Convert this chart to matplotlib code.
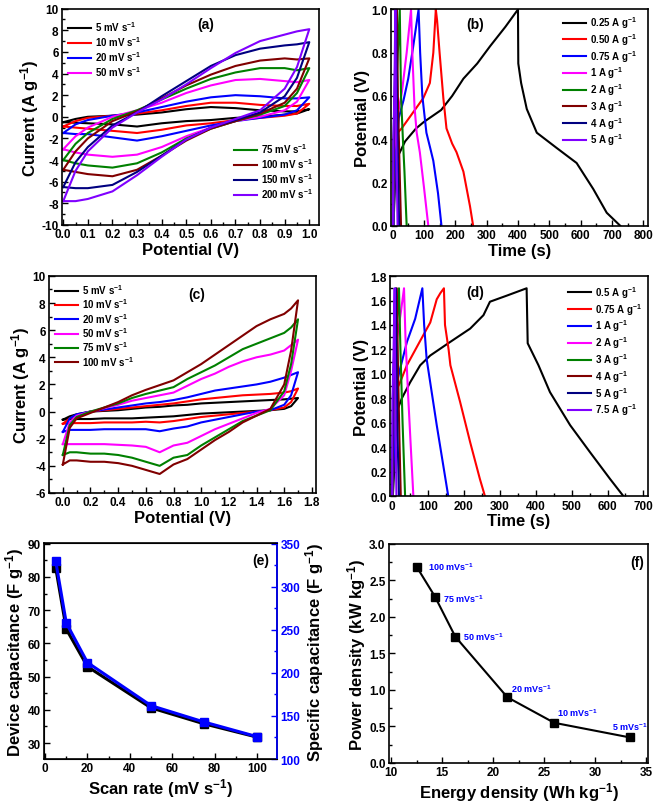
import numpy as np
import matplotlib
matplotlib.use('Agg')
import matplotlib.pyplot as plt
from matplotlib.ticker import MultipleLocator, FormatStrFormatter

plt.rcParams['font.family'] = ['Liberation Sans', 'DejaVu Sans']
plt.rcParams['font.weight'] = 'bold'
plt.rcParams['axes.labelweight'] = 'bold'
plt.rcParams['axes.unicode_minus'] = False
plt.rcParams['mathtext.fontset'] = 'custom'
plt.rcParams['mathtext.bf'] = 'Liberation Sans:bold'
plt.rcParams['mathtext.rm'] = 'Liberation Sans:bold'
plt.rcParams['mathtext.default'] = 'bf'

colors = ['#000000', '#ff0000', '#0000ff', '#ff00ff', '#008000', '#800000', '#000080', '#8000ff']

# ---- (a) CV, electrode, 0-1 V
a_rates = ['5', '10', '20', '50', '75', '100', '150', '200']
a_E = [0, 0.05, 0.1, 0.2, 0.3, 0.4, 0.5, 0.6, 0.7, 0.8, 0.9, 0.95, 1.0]
a_upper = [
    [-0.5, -0.2, 0.0, 0.1, 0.2, 0.4, 0.7, 0.9, 0.8, 0.6, 0.5, 0.5, 0.7],
    [-0.9, -0.4, -0.1, 0.1, 0.3, 0.6, 1.0, 1.3, 1.3, 1.1, 1.0, 1.0, 1.2],
    [-1.5, -0.7, -0.3, 0.1, 0.4, 0.9, 1.4, 1.8, 2.0, 1.9, 1.7, 1.7, 1.8],
    [-3.0, -1.8, -1.0, 0.0, 0.6, 1.3, 2.2, 2.9, 3.4, 3.5, 3.3, 3.2, 3.4],
    [-4.0, -2.5, -1.5, -0.2, 0.6, 1.6, 2.6, 3.5, 4.1, 4.5, 4.5, 4.3, 4.5],
    [-4.9, -3.2, -2.0, -0.4, 0.5, 1.7, 2.9, 3.9, 4.7, 5.2, 5.4, 5.3, 5.4],
    [-6.5, -4.2, -2.8, -0.8, 0.4, 1.9, 3.3, 4.7, 5.7, 6.3, 6.6, 6.7, 6.9],
    [-7.8, -5.0, -3.2, -1.0, 0.4, 1.6, 3.0, 4.5, 5.9, 7.0, 7.6, 7.9, 8.1],
]
a_lower = [
    [-0.5, -0.55, -0.6, -0.7, -0.9, -0.6, -0.4, -0.3, -0.1, 0.0, 0.2, 0.3, 0.7],
    [-0.9, -1.0, -1.1, -1.3, -1.5, -1.2, -0.8, -0.6, -0.3, -0.1, 0.1, 0.3, 1.2],
    [-1.5, -1.6, -1.6, -1.9, -2.2, -1.8, -1.3, -0.8, -0.4, -0.1, 0.2, 0.6, 1.8],
    [-3.0, -3.3, -3.5, -3.7, -3.5, -2.8, -1.8, -1.0, -0.4, 0.0, 0.6, 1.4, 3.4],
    [-4.0, -4.3, -4.5, -4.7, -4.3, -3.3, -2.0, -1.1, -0.4, 0.2, 1.0, 2.2, 4.5],
    [-4.9, -5.1, -5.3, -5.5, -4.9, -3.6, -2.2, -1.1, -0.4, 0.3, 1.3, 2.6, 5.4],
    [-6.5, -6.6, -6.6, -6.3, -5.1, -3.6, -2.1, -1.0, -0.3, 0.4, 1.9, 3.6, 6.9],
    [-7.8, -7.8, -7.6, -6.9, -5.4, -3.7, -2.1, -1.0, -0.2, 0.6, 2.6, 4.6, 8.1],
]

# ---- (b) GCD, electrode
b_labels = ['0.25', '0.50', '0.75', '1', '2', '3', '4', '5']
b_t = [
    [3, 10, 20, 40, 75, 100, 130, 155, 190, 226, 270, 311, 360, 400, 401, 410, 428, 460, 523, 587, 640, 683, 726],
    [2, 10, 29, 66, 98, 119, 130, 138, 142, 150, 162, 172, 190, 204, 226, 247, 257],
    [3, 8, 20, 35, 50, 65, 83, 88, 95, 108, 120, 130, 145, 156],
    [2, 5, 15, 30, 45, 59, 63, 70, 77, 87, 100, 114],
    [2, 5, 12, 23, 27, 33, 38, 45],
    [1, 4, 9, 14, 17, 21, 27],
    [1, 3, 7, 11, 14, 17, 21],
    [1, 3, 6, 9, 11, 13, 16],
]
b_V = [
    [0.0, 0.28, 0.33, 0.39, 0.45, 0.48, 0.51, 0.535, 0.6, 0.68, 0.75, 0.83, 0.92, 1.0, 0.75, 0.66, 0.54, 0.43, 0.36, 0.29, 0.17, 0.06, 0.0],
    [0.0, 0.42, 0.45, 0.525, 0.59, 0.66, 0.8, 1.0, 0.95, 0.8, 0.59, 0.45, 0.38, 0.34, 0.25, 0.09, 0.0],
    [0.0, 0.3, 0.5, 0.58, 0.68, 0.82, 1.0, 0.8, 0.6, 0.43, 0.36, 0.3, 0.15, 0.0],
    [0.0, 0.35, 0.5, 0.62, 0.8, 1.0, 0.8, 0.55, 0.43, 0.34, 0.18, 0.0],
    [0.0, 0.45, 0.65, 1.0, 0.6, 0.4, 0.25, 0.0],
    [0.0, 0.4, 0.65, 1.0, 0.6, 0.35, 0.0],
    [0.0, 0.4, 0.65, 1.0, 0.55, 0.3, 0.0],
    [0.0, 0.4, 0.65, 1.0, 0.55, 0.3, 0.0],
]

# ---- (c) CV, device, 0-1.7 V
c_rates = ['5', '10', '20', '50', '75', '100']
c_E = [0, 0.05, 0.1, 0.2, 0.3, 0.4, 0.5, 0.6, 0.7, 0.8, 0.9, 1.0, 1.1, 1.2, 1.3, 1.4, 1.5, 1.6, 1.65, 1.7]
c_upper = [
    [-0.6, -0.35, -0.2, 0.0, 0.05, 0.1, 0.2, 0.3, 0.35, 0.45, 0.5, 0.6, 0.65, 0.7, 0.75, 0.8, 0.85, 0.9, 0.95, 1.0],
    [-0.9, -0.5, -0.3, 0.0, 0.1, 0.2, 0.3, 0.4, 0.5, 0.6, 0.75, 0.9, 1.0, 1.1, 1.2, 1.25, 1.3, 1.4, 1.5, 1.7],
    [-1.5, -0.5, -0.2, 0.0, 0.15, 0.3, 0.45, 0.6, 0.7, 0.85, 1.05, 1.3, 1.55, 1.7, 1.85, 2.0, 2.2, 2.5, 2.7, 2.9],
    [-2.4, -0.8, -0.3, 0.0, 0.25, 0.5, 0.8, 1.0, 1.2, 1.4, 1.9, 2.4, 2.8, 3.3, 3.7, 4.0, 4.2, 4.5, 4.9, 5.3],
    [-3.2, -1.0, -0.4, 0.0, 0.3, 0.6, 1.0, 1.3, 1.55, 1.8, 2.4, 2.9, 3.4, 4.0, 4.6, 5.0, 5.4, 5.8, 6.2, 6.8],
    [-3.9, -1.2, -0.5, -0.1, 0.3, 0.7, 1.2, 1.6, 1.95, 2.3, 2.9, 3.5, 4.2, 4.9, 5.6, 6.3, 6.8, 7.2, 7.6, 8.2],
]
c_lower = [
    [-0.6, -0.55, -0.55, -0.55, -0.5, -0.5, -0.5, -0.45, -0.4, -0.35, -0.25, -0.15, -0.1, -0.05, 0.0, 0.05, 0.1, 0.2, 0.4, 1.0],
    [-0.9, -0.85, -0.85, -0.85, -0.8, -0.8, -0.8, -0.75, -0.8, -0.7, -0.55, -0.4, -0.3, -0.2, -0.1, 0.0, 0.1, 0.3, 0.7, 1.7],
    [-1.5, -1.35, -1.35, -1.35, -1.3, -1.3, -1.3, -1.3, -1.45, -1.25, -1.1, -0.8, -0.6, -0.4, -0.2, 0.0, 0.1, 0.5, 1.2, 2.9],
    [-2.4, -2.4, -2.4, -2.4, -2.4, -2.45, -2.5, -2.6, -3.0, -2.5, -2.3, -1.8, -1.3, -0.9, -0.5, -0.1, 0.2, 1.2, 3.0, 5.3],
    [-3.2, -3.0, -3.0, -3.1, -3.1, -3.2, -3.4, -3.7, -4.0, -3.4, -3.2, -2.5, -1.9, -1.3, -0.7, -0.3, 0.1, 1.5, 3.5, 6.8],
    [-3.9, -3.6, -3.6, -3.7, -3.7, -3.8, -4.0, -4.3, -4.6, -3.9, -3.5, -2.8, -2.1, -1.5, -0.8, -0.3, 0.2, 2.0, 4.5, 8.2],
]

# ---- (d) GCD, device
d_labels = ['0.5', '0.75', '1', '2', '3', '4', '5', '7.5']
d_t = [
    [3, 15, 28, 51, 79, 107, 162, 218, 255, 273, 320, 375, 378, 408, 440, 496, 551, 607, 644],
    [2, 10, 23, 42, 79, 107, 125, 135, 145, 148, 158, 163, 190, 218, 245, 259],
    [2, 12, 23, 42, 65, 85, 90, 97, 125, 157],
    [2, 6, 15, 25, 34, 38, 45, 52, 60],
    [2, 5, 12, 20, 24, 30, 37],
    [1, 4, 9, 14, 17, 21, 25],
    [1, 3, 7, 11, 13, 16, 20],
    [1, 2, 5, 8, 9, 11, 13],
]
d_V = [
    [0.0, 0.7, 0.8, 0.93, 1.07, 1.15, 1.26, 1.37, 1.48, 1.59, 1.64, 1.70, 1.25, 1.07, 0.85, 0.58, 0.36, 0.14, 0.0],
    [0.0, 0.85, 0.93, 1.07, 1.27, 1.42, 1.61, 1.66, 1.70, 1.40, 1.2, 1.07, 0.77, 0.44, 0.14, 0.0],
    [0.0, 0.9, 1.04, 1.26, 1.45, 1.70, 1.40, 1.12, 0.58, 0.0],
    [0.0, 1.0, 1.3, 1.5, 1.7, 1.3, 0.85, 0.45, 0.0],
    [0.0, 0.9, 1.3, 1.7, 1.2, 0.6, 0.0],
    [0.0, 0.8, 1.2, 1.7, 1.1, 0.5, 0.0],
    [0.0, 0.8, 1.2, 1.7, 1.1, 0.5, 0.0],
    [0.0, 0.8, 1.2, 1.7, 1.1, 0.5, 0.0],
]

# ---- (e) capacitance vs scan rate
scan_rate = [5, 10, 20, 50, 75, 100]
device_cap = [82.8, 64.3, 53.0, 40.6, 35.8, 31.8]
specific_cap = [330, 258, 212, 162, 143, 126]

# ---- (f) Ragone
energy = [12.5, 14.3, 16.3, 21.4, 26.0, 33.4]
power = [2.69, 2.28, 1.73, 0.90, 0.55, 0.35]
ragone_labels = ['100', '75', '50', '20', '10', '5']
ragone_text_pos = [(13.6, 2.70), (15.1, 2.26), (17.1, 1.74), (21.8, 1.02), (26.3, 0.70), (31.7, 0.51)]

TICK = 8.5
LAB = 12
LEG = 7
PANEL = 10


def style(ax, xmaj, ymaj):
    ax.xaxis.set_major_locator(MultipleLocator(xmaj))
    ax.xaxis.set_minor_locator(MultipleLocator(xmaj / 2))
    ax.yaxis.set_major_locator(MultipleLocator(ymaj))
    ax.yaxis.set_minor_locator(MultipleLocator(ymaj / 2))
    ax.tick_params(which='both', direction='in', labelsize=TICK, width=1.0, pad=2.5)
    ax.tick_params(which='major', length=4)
    ax.tick_params(which='minor', length=2)
    for s in ax.spines.values():
        s.set_linewidth(1.2)


def legend(ax, handles=None, **kw):
    opts = dict(frameon=False, fontsize=LEG, handlelength=2.4, labelspacing=0.12,
                handletextpad=0.4, borderaxespad=0.2)
    opts.update(kw)
    if handles is None:
        return ax.legend(**opts)
    return ax.legend(handles=handles, **opts)


fig = plt.figure(figsize=(6.61, 8.04), dpi=100)
axa = fig.add_axes([0.0938, 0.719, 0.389, 0.269])
axb = fig.add_axes([0.5915, 0.718, 0.389, 0.269])
axc = fig.add_axes([0.0741, 0.3856, 0.404, 0.270])
axd = fig.add_axes([0.590, 0.3818, 0.390, 0.2736])
axe = fig.add_axes([0.0666, 0.0547, 0.3525, 0.2687])
axf = fig.add_axes([0.5885, 0.0498, 0.392, 0.2724])

# (a)
lines_a = []
for i, r in enumerate(a_rates):
    E = a_E + a_E[::-1]
    I = a_upper[i] + a_lower[i][::-1]
    ln, = axa.plot(E, I, color=colors[i], lw=1.5, label=r + r' mV s$^{-1}$')
    lines_a.append(ln)
axa.set_xlim(-0.005, 1.04)
axa.set_ylim(-10, 10)
style(axa, 0.1, 2)
axa.xaxis.set_major_formatter(FormatStrFormatter('%.1f'))
axa.set_xlabel('Potential (V)', fontsize=LAB, labelpad=1)
axa.set_ylabel(r'Current (A g$^{-1}$)', fontsize=LAB, labelpad=0)
leg1 = legend(axa, lines_a[:4], loc='upper left', bbox_to_anchor=(0.0, 0.978))
axa.add_artist(leg1)
legend(axa, lines_a[4:], loc='lower right', bbox_to_anchor=(1.0, 0.087))
axa.text(0.58, 8.6, '(a)', fontsize=PANEL, ha='center', va='center')

# (b)
for i, lab in enumerate(b_labels):
    axb.plot(b_t[i], b_V[i], color=colors[i], lw=1.5, label=lab + r' A g$^{-1}$')
axb.set_xlim(-5, 815)
axb.set_ylim(0, 1.0)
style(axb, 100, 0.2)
axb.yaxis.set_major_formatter(FormatStrFormatter('%.1f'))
axb.set_xlabel('Time (s)', fontsize=LAB, labelpad=1)
axb.set_ylabel('Potential (V)', fontsize=LAB, labelpad=1)
legend(axb, loc='upper right', bbox_to_anchor=(0.98, 1.005), labelspacing=0.1)
axb.text(263, 0.935, '(b)', fontsize=PANEL, ha='center', va='center')

# (c)
for i, r in enumerate(c_rates):
    E = c_E + c_E[::-1]
    I = c_upper[i] + c_lower[i][::-1]
    axc.plot(E, I, color=colors[i], lw=1.5, label=r + r' mV s$^{-1}$')
axc.set_xlim(-0.1, 1.83)
axc.set_ylim(-6, 10)
style(axc, 0.2, 2)
axc.xaxis.set_major_formatter(FormatStrFormatter('%.1f'))
axc.set_xlabel('Potential (V)', fontsize=LAB, labelpad=1)
axc.set_ylabel(r'Current (A g$^{-1}$)', fontsize=LAB, labelpad=0)
legend(axc, loc='upper left', bbox_to_anchor=(0.0, 0.997), labelspacing=0.05)
axc.text(0.97, 8.7, '(c)', fontsize=PANEL, ha='center', va='center')

# (d)
for i, lab in enumerate(d_labels):
    axd.plot(d_t[i], d_V[i], color=colors[i], lw=1.5, label=lab + r' A g$^{-1}$')
axd.set_xlim(-5, 712)
axd.set_ylim(0, 1.8)
style(axd, 100, 0.2)
axd.yaxis.set_major_formatter(FormatStrFormatter('%.1f'))
axd.set_xlabel('Time (s)', fontsize=LAB, labelpad=1)
axd.set_ylabel('Potential (V)', fontsize=LAB, labelpad=1)
legend(axd, loc='upper right', bbox_to_anchor=(1.0, 0.99), labelspacing=0.1)
axd.text(232, 1.67, '(d)', fontsize=PANEL, ha='center', va='center')

# (e)
axe.plot(scan_rate, device_cap, color='black', lw=2.2, marker='s', ms=6)
axe.set_xlim(-0.5, 109.5)
axe.set_ylim(25.2, 90.2)
style(axe, 20, 10)
axe.set_xlabel(r'Scan rate (mV s$^{-1}$)', fontsize=LAB, labelpad=1)
axe.set_ylabel(r'Device capacitance (F g$^{-1}$)', fontsize=LAB, labelpad=1)
axe2 = axe.twinx()
axe2.plot(scan_rate, specific_cap, color='#0000ff', lw=2.2, marker='s', ms=6)
axe2.set_ylim(100, 350.8)
axe2.yaxis.set_major_locator(MultipleLocator(50))
axe2.yaxis.set_minor_locator(MultipleLocator(25))
axe2.tick_params(which='both', direction='in', labelsize=TICK, colors='#0000ff', width=1.0, pad=2.5)
axe2.tick_params(which='major', length=4)
axe2.tick_params(which='minor', length=2)
axe2.spines['right'].set_color('#0000ff')
axe2.spines['right'].set_linewidth(1.2)
axe2.set_ylabel(r'Specific capacitance (F g$^{-1}$)', fontsize=LAB, color='black', labelpad=2)
axe.text(102, 85, '(e)', fontsize=PANEL, ha='center', va='center')

# (f)
axf.plot(energy, power, color='black', lw=1.5, marker='s', ms=6)
for lab, (x, y) in zip(ragone_labels, ragone_text_pos):
    axf.text(x, y, lab + r' mVs$^{-1}$', color='#0000ff', fontsize=6.5, ha='left', va='center')
axf.set_xlim(9.8, 35.2)
axf.set_ylim(0, 3.0)
style(axf, 5, 0.5)
axf.yaxis.set_major_formatter(FormatStrFormatter('%.1f'))
axf.set_xlabel(r'Energy density (Wh kg$^{-1}$)', fontsize=LAB, labelpad=1)
axf.set_ylabel(r'Power density (kW kg$^{-1}$)', fontsize=LAB, labelpad=1)
axf.text(34.1, 2.75, '(f)', fontsize=PANEL, ha='center', va='center')

fig.savefig('out.png', dpi=100)
